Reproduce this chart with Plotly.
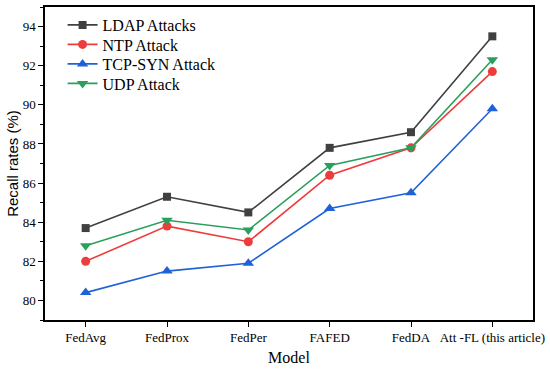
import plotly.graph_objects as go

models = ["FedAvg", "FedProx", "FedPer", "FAFED", "FedDA", "Att -FL (this article)"]
ldap = [83.7, 85.3, 84.5, 87.8, 88.6, 93.5]
ntp = [82.0, 83.8, 83.0, 86.4, 87.8, 91.7]
tcp_syn = [80.4, 81.5, 81.9, 84.7, 85.5, 89.8]
udp = [82.8, 84.1, 83.6, 86.9, 87.8, 92.3]

series = [
    ("LDAP Attacks", ldap, "#404040", "square", 8),
    ("NTP Attack", ntp, "#ee3b3b", "circle", 9),
    ("TCP-SYN Attack", tcp_syn, "#1f62d8", "triangle-up", 10),
    ("UDP Attack", udp, "#2aa05c", "triangle-down", 10),
]

font = "Liberation Serif, Times New Roman, serif"
sans = "Liberation Sans, Arial, sans-serif"

fig = go.Figure()
legend_names = ["legend", "legend2", "legend3", "legend4"]
row_y = [25, 44.5, 64, 83.5]  # legend row centres in pixels from top
plot_top, plot_h = 7, 313
for i, (name, vals, color, sym, sz) in enumerate(series):
    fig.add_trace(go.Scatter(
        x=list(range(len(models))), y=vals, name=name, mode="lines+markers",
        line=dict(color=color, width=1.6),
        marker=dict(symbol=sym, size=sz, color=color),
        legend=legend_names[i],
    ))

layout_legends = {}
for i, ln in enumerate(legend_names):
    layout_legends[ln] = dict(
        x=0.036, y=1 - (row_y[i] - plot_top) / plot_h, xanchor="left", yanchor="middle",
        font=dict(family=font, size=16, color="black"),
        bgcolor="rgba(0,0,0,0)",
    )

fig.update_layout(
    width=550, height=369,
    margin=dict(l=45, r=17, t=7, b=49),
    paper_bgcolor="white", plot_bgcolor="white",
    font=dict(family=font, size=13, color="black"),
    showlegend=True,
    **layout_legends,
)
fig.update_xaxes(
    range=[-0.5, 5.5], tickmode="array", automargin=False,
    tickvals=list(range(len(models))), ticktext=models,
    showline=True, linecolor="black", linewidth=1.5, mirror=True,
    ticks="outside", ticklen=5, tickwidth=1.2, tickcolor="black",
    showgrid=False, zeroline=False,
    title=dict(text="Model", font=dict(family=font, size=16), standoff=7),
    tickfont=dict(family=font, size=13),
)
fig.update_yaxes(
    range=[79, 95], tickmode="array", tickvals=[80, 82, 84, 86, 88, 90, 92, 94],
    automargin=False,
    showline=True, linecolor="black", linewidth=1.5, mirror=True,
    ticks="outside", ticklen=5, tickwidth=1.2, tickcolor="black",
    minor=dict(tickvals=[79, 81, 83, 85, 87, 89, 91, 93, 95], ticks="outside",
               ticklen=3, tickwidth=1, tickcolor="black", showgrid=False),
    showgrid=False, zeroline=False,
    title=dict(text="Recall rates (%)", font=dict(family=sans, size=15), standoff=0),
    tickfont=dict(family=font, size=13),
)
fig.write_html("out.html", config={"displayModeBar": False},
               post_script="document.body.style.margin='0';document.body.style.overflow='hidden';")
